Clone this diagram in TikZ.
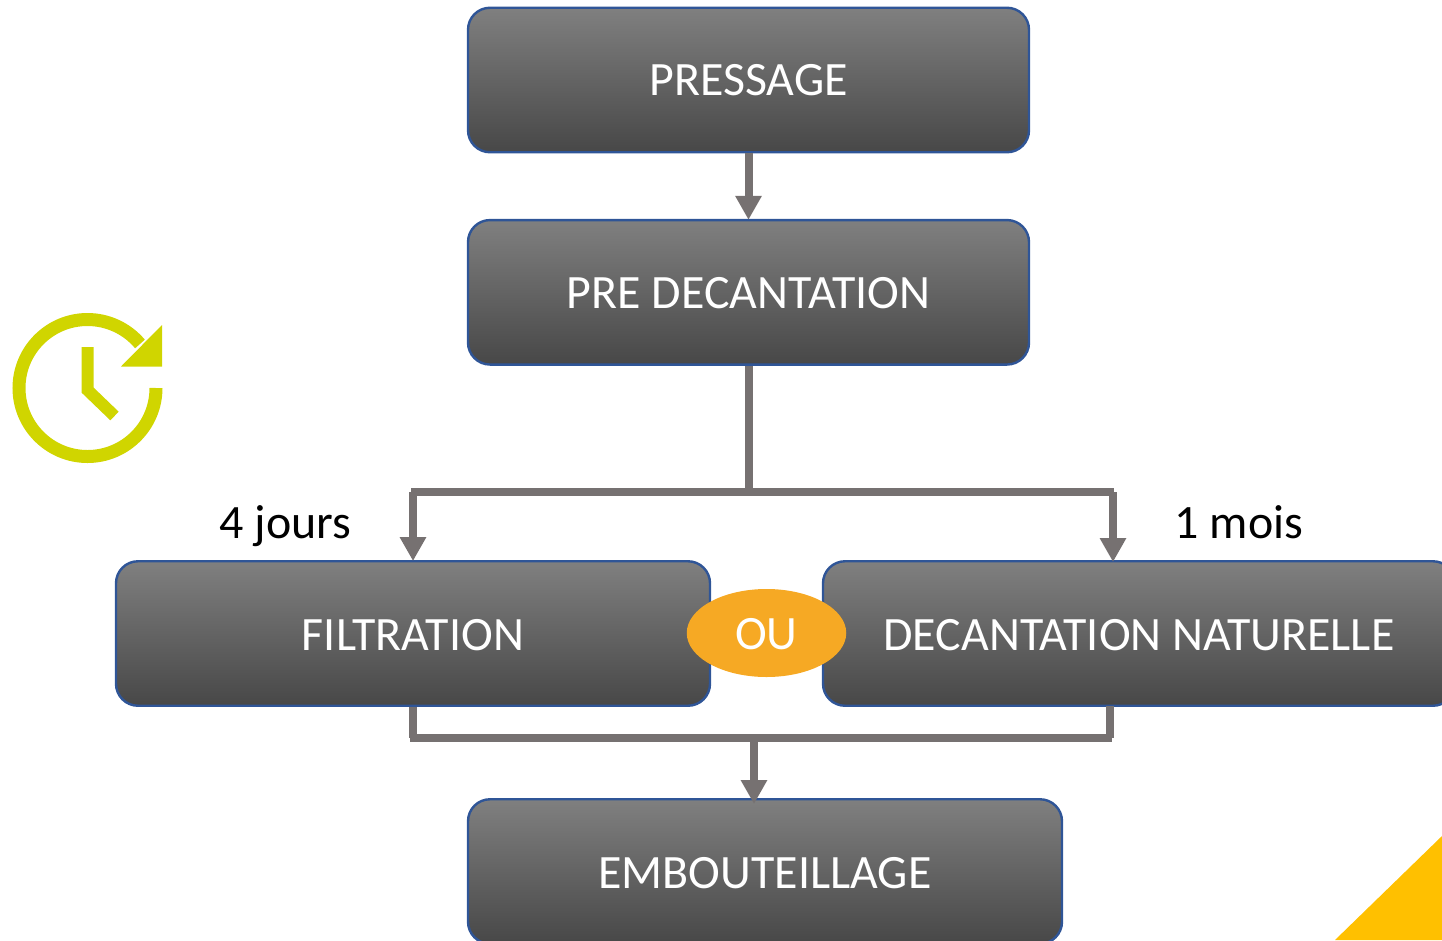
\documentclass[tikz,border=0pt]{standalone}
\usepackage{fontspec}
\setmainfont{Carlito}
\usetikzlibrary{arrows.meta,shapes.geometric}
\definecolor{linkgray}{HTML}{767171}
\definecolor{edgeblue}{HTML}{2F5597}
\definecolor{ouorange}{HTML}{F6A924}
\definecolor{clockgreen}{HTML}{D0D500}
\definecolor{cornergold}{HTML}{FFC000}
\tikzset{
  x=1pt,y=-1pt,
  stepbox/.style={draw=edgeblue,line width=2.4pt,rounded corners=22pt,
    top color=black!50,bottom color=black!72,inner sep=0pt,
    minimum height=144.5pt,text=white,font=\fontsize{47.9}{50}\selectfont},
  lowtext/.style={text height=33pt,text depth=0pt},
  link/.style={draw=linkgray,line width=8pt},
  linkarrow/.style={link,-{Triangle[width=25pt,length=24pt]},shorten >=-1pt},
  durationlabel/.style={inner sep=0pt,anchor=base,text=black,font=\fontsize{47.9}{50}\selectfont},
  clockpart/.style={draw=clockgreen,line width=13pt},
}
\begin{document}
\begin{tikzpicture}
\useasboundingbox (0,0) rectangle (1442,940);
\clip (0,0) rectangle (1442,940);
% corner
\fill[cornergold] (1442,836) -- (1442,940) -- (1335,940) -- cycle;
% boxes
\node[stepbox,minimum width=561pt] (press) at (748.5,80) {PRESSAGE};
\node[stepbox,lowtext,minimum width=561pt] (pre) at (748.5,292.3) {PRE DECANTATION};
\node[stepbox,lowtext,minimum width=594pt] (filt) at (413,633.5) {FILTRATION};
\node[stepbox,lowtext,minimum width=632pt] (dec) at (1139,633.5) {DECANTATION NATURELLE};
\node[stepbox,lowtext,minimum width=594pt] (emb) at (765,871.5) {EMBOUTEILLAGE};
\node[ellipse,lowtext,fill=ouorange,minimum width=159.5pt,minimum height=88pt,inner sep=0pt,text=white,font=\fontsize{47.9}{50}\selectfont] (ou) at (766.5,633) {OU};
% connectors
\coordinate (splitc) at (748.5,492);
\coordinate (splitl) at (413,492);
\coordinate (splitr) at (1113,492);
\coordinate (decin) at (1113,561);
\coordinate (mergel) at (413,738);
\coordinate (merger) at (1110,738);
\coordinate (decout) at (1110,706);
\coordinate (mergec) at (754,738);
\coordinate (embin) at (754,803);
\draw[linkarrow] (press.south) -- (pre.north);
\draw[link] (pre.south) -- (splitc);
\draw[link] ([xshift=-2pt]splitl) -- ([xshift=1pt]splitr);
\draw[linkarrow] (splitl) -- (filt.north);
\draw[linkarrow] (splitr) -- (decin);
\draw[link] (filt.south -| mergel) -- (mergel);
\draw[link] (decout) -- (merger);
\draw[link] ([xshift=-3pt]mergel) -- ([xshift=2pt]merger);
\draw[linkarrow] (mergec) -- (embin);
% labels
\node[durationlabel] (fourj) at (285.5,538) {4 jours};
\node[durationlabel] (onem) at (1239,538) {1 mois};
% clock
\draw[clockpart] (87.5,388) ++(0:68.5pt) arc[start angle=0,end angle=-320,radius=68.5pt];
\fill[clockgreen] (162,325) -- (162,366.5) -- (121,366.5) -- cycle;
\draw[clockpart,line width=12pt] (87.5,347) -- (87.5,390) -- (114.5,416);
\end{tikzpicture}
\end{document}
